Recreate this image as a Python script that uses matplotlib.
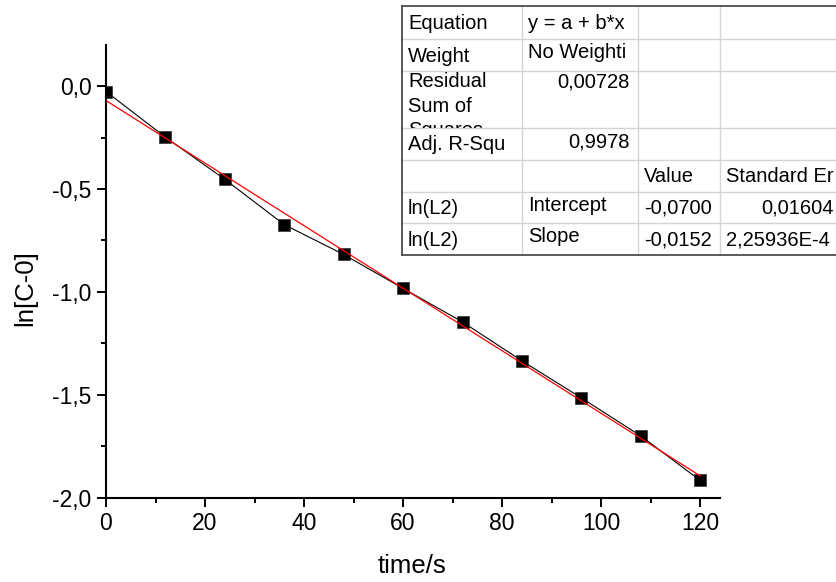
import matplotlib
matplotlib.use('Agg')

import matplotlib.pyplot as plt
from matplotlib.patches import Rectangle
from matplotlib.ticker import MultipleLocator, FuncFormatter

plt.rcParams['font.family'] = ['Liberation Sans', 'DejaVu Sans']

# measured data
time_s = [0, 12, 24, 36, 48, 60, 72, 84, 96, 108, 120]
ln_c = [-0.026, -0.248, -0.453, -0.673, -0.818, -0.983, -1.146, -1.335, -1.515, -1.700, -1.916]

# linear fit parameters (from the fit table)
fit_intercept = -0.0700
fit_slope = -0.0152
fit_range = [0, 120]

# fit result table, row by row
table_rows = [
    ['Equation', 'y = a + b*x', '', ''],
    ['Weight', 'No Weighti', '', ''],
    ['Residual\nSum of\nSquares', '0,00728', '', ''],
    ['Adj. R-Squ', '0,9978', '', ''],
    ['', '', 'Value', 'Standard Er'],
    ['ln(L2)', 'Intercept', '-0,0700', '0,01604'],
    ['ln(L2)', 'Slope', '-0,0152', '2,25936E-4'],
]
right_aligned = {(2, 1), (3, 1), (5, 3)}

W, H = 837, 582
fig = plt.figure(figsize=(W / 100, H / 100), dpi=100)
ax = fig.add_axes([106 / W, (H - 497.7) / H, 614 / W, 452.7 / H])

ax.plot(time_s, ln_c, color='black', lw=0.8, marker='s', ms=8,
        mfc='black', mec='#333333', mew=0.5, zorder=2)
fit_y = [fit_intercept + fit_slope * x for x in fit_range]
ax.plot(fit_range, fit_y, color='red', lw=0.9, zorder=3)

ax.set_xlim(0, 124)
ax.set_ylim(-2.0, 0.2)
ax.xaxis.set_major_locator(MultipleLocator(20))
ax.xaxis.set_minor_locator(MultipleLocator(10))
ax.yaxis.set_major_locator(MultipleLocator(0.5))
ax.yaxis.set_minor_locator(MultipleLocator(0.25))
ax.yaxis.set_major_formatter(FuncFormatter(lambda v, p: f'{v:.1f}'.replace('.', ',')))
ax.xaxis.set_major_formatter(FuncFormatter(lambda v, p: f'{v:.0f}'))

for s in ['top', 'right']:
    ax.spines[s].set_visible(False)
for s in ['left', 'bottom']:
    ax.spines[s].set_linewidth(1.5)
ax.tick_params(which='major', direction='out', length=6.5, width=1.4, labelsize=16.5, pad=4)
ax.tick_params(which='minor', direction='out', length=3.5, width=1.4)

ax.set_xlabel('time/s', fontsize=18.5)
ax.set_ylabel('ln[C-0]', fontsize=18.5)
ax.xaxis.set_label_coords(0.498, -0.125)
ax.yaxis.set_label_coords(-0.112, 0.4625)

# table drawn in pixel coordinates
col_edges = [402, 522, 638, 720, 842]
row_edges = [6, 39, 71, 128, 160, 192, 223, 255]
tab = fig.add_axes([402 / W, (H - 255) / H, 440 / W, 249 / H])
tab.set_xlim(402, 842)
tab.set_ylim(255, 6)
tab.axis('off')

for x in col_edges[1:-1]:
    tab.plot([x, x], [row_edges[0], row_edges[-1]], color='#d4d4d4', lw=1.0, clip_on=False)
for y in row_edges[1:-1]:
    tab.plot([col_edges[0], col_edges[-1]], [y, y], color='#d4d4d4', lw=1.0, clip_on=False)
tab.plot([col_edges[0], col_edges[0]], [row_edges[0], row_edges[-1]], color='#404040', lw=1.2, clip_on=False)
tab.plot([col_edges[0], col_edges[-1]], [row_edges[0], row_edges[0]], color='#404040', lw=1.2, clip_on=False)
tab.plot([col_edges[0], col_edges[-1]], [row_edges[-1], row_edges[-1]], color='#404040', lw=1.2, clip_on=False)

for r, row in enumerate(table_rows):
    y0, y1 = row_edges[r], row_edges[r + 1]
    for c, txt in enumerate(row):
        if not txt:
            continue
        x0, x1 = col_edges[c], col_edges[c + 1]
        if c == 1 and r > 0:
            shift = -2
        else:
            shift = 1
        if (r, c) in right_aligned:
            tx, ha = x1 - 8, 'right'
        else:
            tx, ha = x0 + 6, 'left'
        if r == 2:
            t = tab.text(tx, y0 + 1, txt, ha=ha, va='top', fontsize=14.5,
                         linespacing=1.38)
        else:
            t = tab.text(tx, (y0 + y1) / 2 + shift, txt, ha=ha, va='center', fontsize=14.5)
        t.set_clip_on(True)
        t.set_clip_path(Rectangle((x0, y0), x1 - x0, y1 - y0, transform=tab.transData))

fig.savefig('out.png', dpi=100)
